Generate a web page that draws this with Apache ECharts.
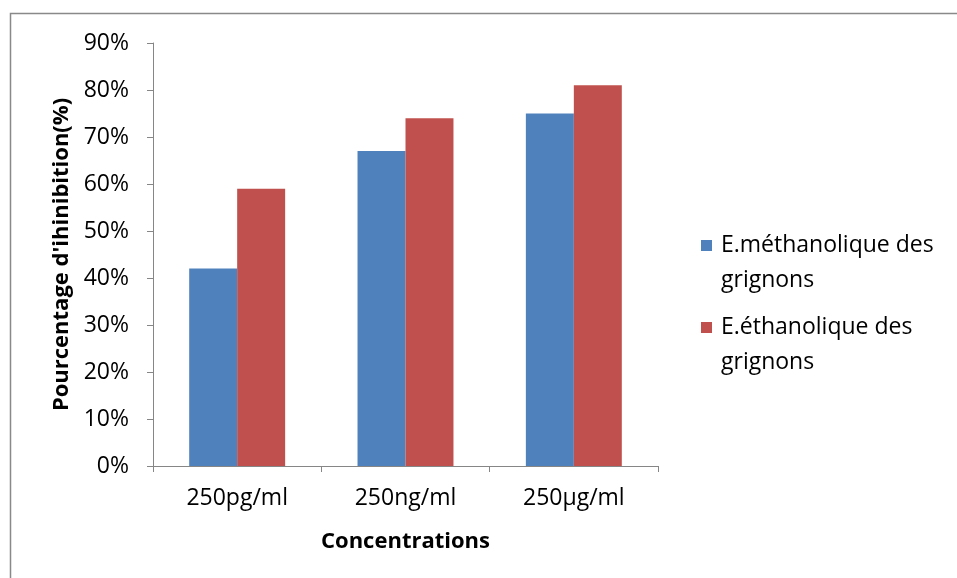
<!DOCTYPE html>
<html><head><meta charset="utf-8">
<script src="https://cdn.jsdelivr.net/npm/echarts@6/dist/echarts.min.js"></script>
<style>html,body{margin:0;padding:0;background:#fff}#c{width:957px;height:578px}</style>
</head><body><div id="c"></div>
<script>
const categories = ['250pg/ml', '250ng/ml', '250µg/ml'];
const seriesNames = ['E.méthanolique des grignons', 'E.éthanolique des grignons'];
const methanolValues = [42, 67, 75];
const ethanolValues = [59, 74, 81];
const xTitle = 'Concentrations';
const yTitle = "Pourcentage d'ihinibition(%)";

const FONT = 'Open Sans';
const FS = 23;
const TFS = 22;
const chart = echarts.init(document.getElementById('c'), null, {renderer: 'canvas'});
function legendFmt(name) { return '\n' + name.replace(' grignons', '\ngrignons'); }
const legendCommon = {
  orient: 'vertical', left: 701, padding: 0, itemWidth: 11, itemHeight: 11,
  icon: 'rect', formatter: legendFmt,
  textStyle: {fontFamily: FONT, fontSize: FS, color: '#000', lineHeight: 35, padding: [0, 0, 0, 4]}
};
chart.setOption({
  animation: false,
  backgroundColor: '#fff',
  graphic: [{
    type: 'rect', z: -1, silent: true,
    shape: {x: 10.5, y: 13.5, width: 1000, height: 1000},
    style: {fill: 'none', stroke: '#898989', lineWidth: 1.5}
  }],
  legend: [
    Object.assign({}, legendCommon, {data: [seriesNames[0]], top: 193}),
    Object.assign({}, legendCommon, {data: [seriesNames[1]], top: 275})
  ],
  grid: {left: 153, right: 299, top: 43, bottom: 112},
  xAxis: {
    type: 'category', data: categories,
    axisLine: {show: true, lineStyle: {color: '#868686', width: 1}},
    axisTick: {show: true, length: 6, lineStyle: {color: '#868686'}},
    axisLabel: {fontFamily: FONT, fontSize: FS, color: '#000', margin: 21},
    name: xTitle, nameLocation: 'middle', nameGap: 65,
    nameTextStyle: {fontFamily: FONT, fontSize: TFS, fontWeight: 'bold', color: '#000'}
  },
  yAxis: {
    type: 'value', min: 0, max: 90, interval: 10,
    axisLine: {show: true, lineStyle: {color: '#868686', width: 1}},
    axisTick: {show: true, length: 6, lineStyle: {color: '#868686'}},
    splitLine: {show: false},
    axisLabel: {fontFamily: FONT, fontSize: FS, color: '#000', margin: 24, formatter: '{value}%'},
    name: yTitle, nameLocation: 'middle', nameGap: 78,
    nameTextStyle: {fontFamily: FONT, fontSize: TFS, fontWeight: 'bold', color: '#000'}
  },
  series: [
    {name: seriesNames[0], type: 'bar', data: methanolValues, itemStyle: {color: '#4F81BD'}, barGap: '0%', barCategoryGap: '43%'},
    {name: seriesNames[1], type: 'bar', data: ethanolValues, itemStyle: {color: '#C0504D'}, barGap: '0%', barCategoryGap: '43%'}
  ]
});
</script></body></html>
